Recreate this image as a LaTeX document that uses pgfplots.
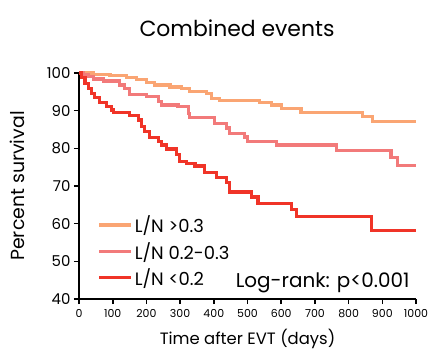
\documentclass[border=0pt]{standalone}
\usepackage{pgfplots}
\pgfplotsset{compat=1.18}
\usepackage{fontspec}
\setmainfont{Poppins}
\definecolor{corange}{RGB}{250,165,115}
\definecolor{cpink}{RGB}{242,122,122}
\definecolor{cred}{RGB}{240,52,40}
\begin{document}
\begin{tikzpicture}[x=1bp,y=1bp]
\path[use as bounding box] (-79,-57) rectangle (355,299);
\begin{axis}[
  at={(0,0)}, anchor=south west,
  scale only axis, width=337bp, height=226bp,
  xmin=0, xmax=1000, ymin=40, ymax=100,
  axis x line=bottom, axis y line=left,
  axis line style={-, line width=1.6bp, black},
  xtick={0,100,...,1000}, ytick={40,50,...,100},
  tick align=outside, major tick length=5bp,
  every tick/.style={black, line width=1.6bp},
  x tick label style={font=\fontsize{11}{13}\selectfont, yshift=-2bp},
  y tick label style={font=\fontsize{15}{17}\selectfont},
  /pgf/number format/assume math mode=true,
  /pgf/number format/set thousands separator={},
  clip=false,
  legend style={at={(rel axis cs:0.055,0.378)}, anchor=north west, draw=none, fill=none,
    font=\fontsize{18}{20}\selectfont, row sep=4bp, inner sep=0pt},
  legend cell align=left,
  legend image code/.code={\draw[#1] (0bp,0bp) -- (26bp,0bp); \path (0bp,0bp) -- (32bp,0bp);},
]
\addplot[const plot, corange, line width=3.2bp] coordinates {
(0,100) (42,99.65) (92,99.3) (141,98.9) (171,98.2) (200,97.5) (225,96.8)
(270,96.3) (304,95.8) (329,95.0) (378,94.6) (393,93.2) (418,92.6)
(536,92.1) (571,91.5) (600,90.6) (659,89.6) (842,88.4) (872,87.1) (1000,87.1)};
\addlegendentry{L/N >0.3}
\addplot[const plot, cpink, line width=3.2bp] coordinates {
(0,100) (13,99.5) (28,99.0) (42,98.4) (72,97.9) (121,96.8) (136,95.8)
(151,94.2) (200,93.7) (235,92.5) (245,91.5) (294,91.1) (324,89.3) (329,88.2)
(403,86.7) (437,85.4) (447,84.0) (492,83.0) (501,81.9) (585,80.9)
(763,79.5) (926,77.5) (946,75.4) (1000,75.4)};
\addlegendentry{L/N 0.2-0.3}
\addplot[const plot, cred, line width=3.2bp] coordinates {
(0,100) (8,98.9) (18,97.2) (28,95.8) (38,94.6) (47,93.5) (62,92.1)
(82,91.2) (97,90.2) (102,89.5) (151,88.8) (176,87.5) (186,85.8) (195,84.4)
(210,82.8) (235,81.8) (245,80.9) (260,79.8) (289,78.3) (299,76.6) (319,75.9)
(344,75.3) (373,73.5) (408,72.2) (437,70.9) (447,68.4) (511,67.1) (531,65.3)
(630,63.7) (645,61.8) (867,58.1) (1000,58.1)};
\addlegendentry{L/N <0.2}
\end{axis}
\node[font=\fontsize{22}{26}\selectfont, anchor=base] at (158,263) {Combined events};
\node[font=\fontsize{16.5}{19}\selectfont, anchor=base] at (168.5,-45) {Time after EVT (days)};
\node[font=\fontsize{19}{22}\selectfont, rotate=90, anchor=base] at (-54,113) {Percent survival};
\node[font=\fontsize{20}{23}\selectfont, anchor=base east] at (334,12) {Log-rank: p<0.001};
\end{tikzpicture}
\end{document}
